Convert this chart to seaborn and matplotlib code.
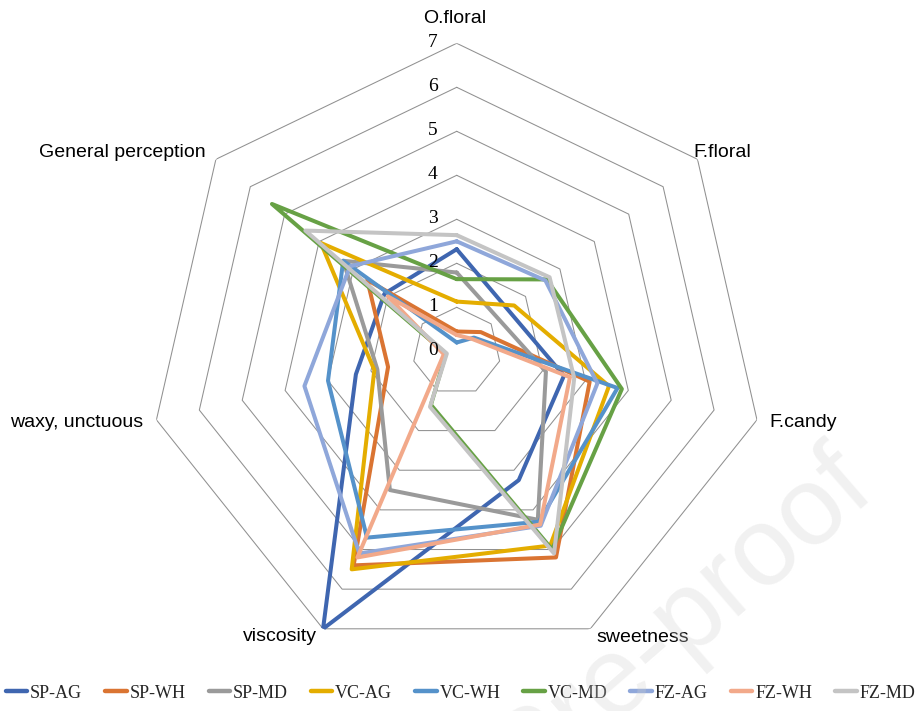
import numpy as np
import pandas as pd
import matplotlib
matplotlib.use("Agg")
import matplotlib.pyplot as plt
import seaborn as sns
from matplotlib.lines import Line2D

# ---------------- data ----------------
categories = ["O.floral", "F.floral", "F.candy", "sweetness", "viscosity",
              "waxy, unctuous", "General perception"]
series_names = ["SP-AG", "SP-WH", "SP-MD", "VC-AG", "VC-WH", "VC-MD",
                "FZ-AG", "FZ-WH", "FZ-MD"]
sp_ag = [2.32, 1.50, 2.50, 3.25, 7.00, 2.35, 2.10]
sp_wh = [0.45, 0.70, 3.10, 5.20, 5.40, 1.60, 2.60]
sp_md = [1.79, 1.20, 2.08, 4.25, 3.50, 1.85, 3.30]
vc_ag = [1.13, 1.67, 3.55, 4.90, 5.50, 1.92, 3.95]
vc_wh = [0.20, 0.50, 3.75, 4.30, 4.70, 3.00, 3.30]
vc_md = [1.64, 2.62, 3.85, 5.00, 1.35, 0.25, 5.37]
fz_ag = [2.50, 2.58, 3.28, 4.40, 5.10, 3.55, 3.10]
fz_wh = [0.37, 0.45, 2.64, 4.37, 5.20, 0.30, 2.00]
fz_md = [2.64, 2.70, 2.74, 5.10, 1.40, 0.23, 4.40]
tick_labels = ["0", "1", "2", "3", "4", "5", "6", "7"]

series_values = [sp_ag, sp_wh, sp_md, vc_ag, vc_wh, vc_md, fz_ag, fz_wh, fz_md]
colors = ["#3F66B0", "#DA7432", "#9A9A9A", "#E4AD00", "#5592CA", "#67A145",
          "#8FA7DA", "#F2A98A", "#C4C4C4"]

# ---------------- long table ----------------
n = len(categories)
angles = np.linspace(0, 2 * np.pi, n, endpoint=False)
rows = []
for name, vals in zip(series_names, series_values):
    for k in range(n + 1):
        rows.append({"series": name, "order": k,
                     "theta": angles[k % n] if k < n else 2 * np.pi,
                     "value": vals[k % n]})
df = pd.DataFrame(rows)

# ---------------- figure ----------------
sns.set_theme(style="white")
plt.rcParams["font.family"] = ["Liberation Sans", "DejaVu Sans"]

W, H = 921, 711
fig = plt.figure(figsize=(W / 100, H / 100), dpi=100)
cx, cy, R = 456.7, 351.3, 308.0
ax = fig.add_axes([(cx - R) / W, (H - cy - R) / H, 2 * R / W, 2 * R / H],
                  projection="polar")
ax.set_theta_zero_location("N")
ax.set_theta_direction(-1)
ax.set_facecolor("none")

# heptagon grid
grid_theta = list(angles) + [2 * np.pi]
for lvl in range(1, 8):
    ax.plot(grid_theta, [lvl] * (n + 1), color="#909090", lw=0.75, zorder=1)

sns.lineplot(data=df, x="theta", y="value", hue="series",
             hue_order=series_names, palette=colors, sort=False,
             estimator=None, linewidth=2.9, legend=False, ax=ax, zorder=3)

ax.set_ylim(0, 7)
ax.set_xticks([])
ax.set_yticks([])
ax.grid(False)
ax.spines["polar"].set_visible(False)
ax.set_xlabel("")
ax.set_ylabel("")

# radial tick labels
for lvl, lab in enumerate(tick_labels):
    ax.annotate(lab, xy=(0, lvl), xytext=(-19, 1), textcoords="offset pixels",
                ha="right", va="center", fontsize=14,
                family=["Liberation Serif", "DejaVu Serif"], color="#000000")

# category labels
label_fmt = [((-2, 25), "center"), ((-4, 7), "left"), ((12, -3), "left"),
             ((52, -9), "center"), ((-43, -8), "center"), ((-13, -3), "right"),
             ((-10, 7), "right")]
for ang, cat, (off, ha) in zip(angles, categories, label_fmt):
    ax.annotate(cat, xy=(ang, 7), xytext=off, textcoords="offset pixels",
                ha=ha, va="center", fontsize=14, color="#000000",
                annotation_clip=False)

# legend
handles = [Line2D([0], [0], color=c, lw=3.2) for c in colors]
fig.legend(handles, series_names, loc="center", ncol=9,
           bbox_to_anchor=(0.5, 1 - 693 / H), frameon=False,
           prop={"family": ["Liberation Serif", "DejaVu Serif"], "size": 13},
           handlelength=1.2, handletextpad=0.15, columnspacing=1.27,
           borderaxespad=0, borderpad=0)

# watermark
fig.text(878 / W, 1 - 495 / H, "Journal Pre-proof", fontsize=80,
         color="#D0D0D0", alpha=0.3, rotation=41, rotation_mode="anchor",
         ha="right", va="baseline", zorder=10)

fig.savefig("out.png", dpi=100)
